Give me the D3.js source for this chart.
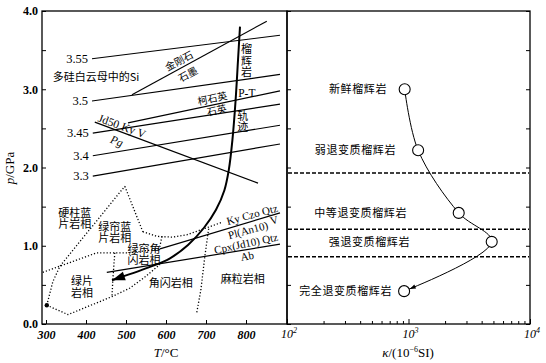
<!DOCTYPE html>
<html>
<head>
<meta charset="utf-8">
<script src="https://cdn.jsdelivr.net/npm/d3@7"></script>
<style>
  body { margin: 0; background: #fff; }
  svg { display: block; }
  .serif { font-family: "Liberation Serif", "DejaVu Serif", serif; }
  .cjk { font-family: "Noto Sans CJK SC", sans-serif; }
</style>
</head>
<body>
<div id="chart"></div>
<script>
// ---- data ----
const tempTicks = [300, 400, 500, 600, 700, 800];
const pressureTicks = [0, 1, 2, 3, 4];
const pressureMinor = [0.5, 1.5, 2.5, 3.5];
const kappaTicks = [100, 1000, 10000];
const kappaExp = ["2", "3", "4"];

// phengite Si isopleths (T at ends, p at ends)
const siLabels = ["3.55", "3.5", "3.45", "3.4", "3.3"];
const siT = [[415, 885], [415, 885], [417, 885], [417, 885], [417, 885]];
const siP = [[3.39, 3.69], [2.85, 3.19], [2.44, 2.81], [2.15, 2.54], [1.89, 2.30]];

// reaction lines
const reactionNames = ["diamond-graphite", "coesite-quartz", "Jd50", "KyCzoQtz", "CpxQtz"];
const reactionT = [[515, 852], [505, 885], [422, 830], [585, 885], [452, 885]];
const reactionP = [[2.93, 3.87], [2.57, 2.98], [2.58, 1.80], [0.96, 1.42], [0.66, 1.02]];

// eclogite P-T path
const pathT = [785, 780, 774, 766, 757, 746, 725, 695, 655, 610, 555, 465];
const pathP = [3.80, 3.37, 2.86, 2.35, 1.97, 1.71, 1.46, 1.23, 1.01, 0.84, 0.72, 0.56];

// facies boundaries (dotted)
const faciesLines = [
  [[302, 0.24], [317, 0.54], [335, 0.74], [497, 1.76]],
  [[497, 1.76], [542, 1.18]],
  [[542, 1.18], [577, 1.12], [617, 1.11], [652, 1.14], [702, 1.23], [740, 1.30]],
  [[292, 0.66], [335, 0.74], [427, 0.91], [510, 0.91], [585, 0.96]],
  [[472, 0.91], [467, 0.56], [465, 0.35]],
  [[302, 0.24], [355, 0.12], [465, 0.35], [510, 0.46], [547, 0.60], [585, 0.76]],
  [[677, 0.15], [687, 0.43], [697, 0.86], [707, 1.23]],
  [[590, 1.12], [582, 0.93]]
];

// magnetic susceptibility of eclogites
const eclogiteNames = ["新鲜榴辉岩", "弱退变质榴辉岩", "中等退变质榴辉岩", "强退变质榴辉岩", "完全退变质榴辉岩"];
const kappaValues = [930, 1200, 2590, 4840, 920];
const kappaP = [3.00, 2.22, 1.42, 1.05, 0.42];
const stageBoundaries = [1.93, 1.21, 0.86];

// ---- drawing ----
const W = 546, H = 363;
const svg = d3.select("#chart").append("svg").attr("width", W).attr("height", H);
svg.append("rect").attr("width", W).attr("height", H).attr("fill", "#fff");

const xT = d3.scaleLinear().domain([290, 900]).range([42, 286]);
const yP = d3.scaleLinear().domain([0, 4]).range([324, 11]);
const xK = d3.scaleLog().domain([100, 10000]).range([287, 530]);

// frames
svg.append("rect").attr("x", 42).attr("y", 11).attr("width", 245).attr("height", 313)
  .attr("fill", "none").attr("stroke", "#000").attr("stroke-width", 1.3);
svg.append("rect").attr("x", 287).attr("y", 11).attr("width", 243).attr("height", 313)
  .attr("fill", "none").attr("stroke", "#000").attr("stroke-width", 1.3);

function clean(g) { g.select(".domain").remove(); }

// left panel axes
svg.append("g").attr("transform", "translate(0,324)")
  .call(d3.axisBottom(xT).tickValues(tempTicks).tickSizeInner(-4).tickSizeOuter(0).tickPadding(6))
  .call(clean)
  .call(g => g.selectAll("text").attr("class", "serif").attr("font-size", 12)
    .attr("font-weight", "bold").attr("font-style", "italic"));

svg.append("g").attr("transform", "translate(42,0)")
  .call(d3.axisLeft(yP).tickValues(pressureTicks).tickFormat(d3.format(".1f"))
    .tickSizeInner(-4).tickSizeOuter(0).tickPadding(4))
  .call(clean)
  .call(g => g.selectAll("text").attr("class", "serif").attr("font-size", 12).attr("font-weight", "bold"));
svg.append("g").attr("transform", "translate(42,0)")
  .call(d3.axisLeft(yP).tickValues(pressureMinor).tickFormat("").tickSizeInner(-4).tickSizeOuter(0))
  .call(clean);

// shared divider ticks and right panel ticks
svg.append("g").attr("transform", "translate(287,0)")
  .call(d3.axisRight(yP).tickValues(pressureTicks.concat(pressureMinor)).tickFormat("").tickSize(4))
  .call(clean);
svg.append("g").attr("transform", "translate(530,0)")
  .call(d3.axisLeft(yP).tickValues(pressureTicks.concat(pressureMinor)).tickFormat("").tickSize(4))
  .call(clean);

// right panel x axis (log)
const kMinor = [];
[100, 1000].forEach(b => { for (let i = 2; i <= 9; i++) kMinor.push(b * i); });
svg.append("g").attr("transform", "translate(0,324)")
  .call(d3.axisBottom(xK).tickValues(kMinor).tickFormat("").tickSizeInner(-3).tickSizeOuter(0))
  .call(clean);
svg.append("g").attr("transform", "translate(0,324)")
  .call(d3.axisBottom(xK).tickValues(kappaTicks).tickFormat("").tickSizeInner(-5).tickSizeOuter(0))
  .call(clean);
kappaTicks.forEach((k, i) => {
  const t = svg.append("text").attr("class", "serif").attr("x", xK(k) + 2).attr("y", 338)
    .attr("text-anchor", "middle").attr("font-size", 12).attr("font-style", "italic").text("10");
  t.append("tspan").attr("font-size", 8).attr("dy", -5).text(kappaExp[i]);
});

// axis titles
const tt = svg.append("text").attr("class", "serif").attr("x", 166).attr("y", 357)
  .attr("text-anchor", "middle").attr("font-size", 13);
tt.append("tspan").attr("font-style", "italic").text("T");
tt.append("tspan").text("/°C");

const pt = svg.append("text").attr("class", "serif").attr("transform", "translate(14,168) rotate(-90)")
  .attr("text-anchor", "middle").attr("font-size", 13);
pt.append("tspan").attr("font-style", "italic").text("p");
pt.append("tspan").text("/GPa");

const kt = svg.append("text").attr("class", "serif").attr("x", 408).attr("y", 357)
  .attr("text-anchor", "middle").attr("font-size", 13);
kt.append("tspan").attr("font-style", "italic").text("κ");
kt.append("tspan").text("/(10");
kt.append("tspan").attr("font-size", 8).attr("dy", -5).text("−6");
kt.append("tspan").attr("dy", 5).text("SI)");

// ---- left panel content ----
const left = svg.append("g");
const seg = (Ts, Ps) => d3.line()(Ts.map((t, i) => [xT(t), yP(Ps[i])]));

// facies boundaries
const faciesLine = d3.line().x(d => xT(d[0])).y(d => yP(d[1])).curve(d3.curveLinear);
faciesLines.forEach(f => {
  left.append("path").attr("d", faciesLine(f)).attr("fill", "none")
    .attr("stroke", "#000").attr("stroke-width", 1.3).attr("stroke-dasharray", "1.2,2");
});
left.append("circle").attr("cx", xT(302)).attr("cy", yP(0.24)).attr("r", 2.2).attr("fill", "#000");

// Si isopleths
siLabels.forEach((s, i) => {
  left.append("path").attr("d", seg(siT[i], siP[i])).attr("stroke", "#000").attr("stroke-width", 1.2);
  left.append("text").attr("class", "serif").attr("x", xT(siT[i][0]) - 4).attr("y", yP(siP[i][0]) + 4)
    .attr("text-anchor", "end").attr("font-size", 12.5).text(s);
});

// reactions
reactionNames.forEach((r, i) => {
  left.append("path").attr("d", seg(reactionT[i], reactionP[i])).attr("stroke", "#000").attr("stroke-width", 1.2);
});

// P-T path
const ptLine = d3.line().x((d, i) => xT(pathT[i])).y((d, i) => yP(pathP[i])).curve(d3.curveCatmullRom.alpha(0.5));
const ptPath = left.append("path").attr("d", ptLine(pathT)).attr("fill", "none")
  .attr("stroke", "#000").attr("stroke-width", 2);
{
  const node = ptPath.node(), L = node.getTotalLength();
  const a = node.getPointAtLength(L), b = node.getPointAtLength(L - 6);
  const ang = Math.atan2(a.y - b.y, a.x - b.x);
  const tip = [a.x, a.y];
  const len = 13, half = 4.5;
  const bx = tip[0] - len * Math.cos(ang), by = tip[1] - len * Math.sin(ang);
  const p1 = [bx + half * Math.sin(ang), by - half * Math.cos(ang)];
  const p2 = [bx - half * Math.sin(ang), by + half * Math.cos(ang)];
  left.append("path").attr("d", `M${tip}L${p1}L${p2}Z`).attr("fill", "#000");
}

// annotations
function note(txt, T, p, opts = {}) {
  left.append("text").attr("class", opts.serif ? "serif" : "cjk")
    .attr("transform", `translate(${xT(T)},${yP(p)}) rotate(${opts.rot || 0})`)
    .attr("text-anchor", opts.anchor || "middle").attr("dy", "0.35em")
    .attr("font-size", opts.size || 11).attr("font-style", opts.italic ? "italic" : null)
    .attr("letter-spacing", opts.ls || null)
    .text(txt);
}
note("多硅白云母中的Si", 317, 3.16, { anchor: "start", size: 11 });
note("金刚石", 633, 3.36, { rot: -28, size: 10 });
note("石墨", 655, 3.19, { rot: -28, size: 10 });
note("柯石英", 716, 2.88, { rot: -12, size: 10 });
note("石英", 727, 2.73, { rot: -12, size: 10 });
note("Jd50 Ky V", 490, 2.53, { rot: 20, serif: true, italic: false, size: 11.5 });
note("Pg", 477, 2.34, { rot: 20, serif: true, italic: true, size: 11.5 });
note("榴", 801, 3.51); note("辉", 801, 3.36); note("岩", 801, 3.22);
note("P-T", 802, 2.95, { serif: true, size: 11.5 });
note("轨", 792, 2.66); note("迹", 792, 2.52);
note("Ky Czo Qtz", 815, 1.40, { rot: -15, serif: true, size: 11 });
note("Pl(An10)", 805, 1.20, { rot: -15, serif: true, size: 11 });
note("V", 870, 1.33, { rot: -15, serif: true, size: 11 });
note("Cpx(Jd10) Qtz", 800, 1.03, { rot: -12, serif: true, size: 11 });
note("Ab", 803, 0.87, { rot: -10, serif: true, size: 11 });
note("硬柱蓝", 372, 1.42); note("片岩相", 372, 1.27);
note("绿帘蓝", 472, 1.24); note("片岩相", 472, 1.10);
note("绿帘角", 545, 0.96); note("闪岩相", 545, 0.82);
note("绿片", 390, 0.55); note("岩相", 390, 0.40);
note("角闪岩相", 612, 0.52);
note("麻粒岩相", 792, 0.575);

// ---- right panel content ----
const right = svg.append("g");
stageBoundaries.forEach(p => {
  right.append("line").attr("x1", 288).attr("x2", 529).attr("y1", yP(p)).attr("y2", yP(p))
    .attr("stroke", "#000").attr("stroke-width", 1.6).attr("stroke-dasharray", "4,2");
});

const kLine = d3.line().x((d, i) => xK(kappaValues[i])).y((d, i) => yP(kappaP[i]))
  .curve(d3.curveCatmullRom.alpha(0.5));
const kPath = right.append("path").attr("d", kLine(kappaValues)).attr("fill", "none")
  .attr("stroke", "#000").attr("stroke-width", 1);
const r = 5.5;
{
  const node = kPath.node(), L = node.getTotalLength();
  const a = node.getPointAtLength(L - r - 0.5), b = node.getPointAtLength(L - r - 6);
  const ang = Math.atan2(a.y - b.y, a.x - b.x);
  const len = 6, half = 2.2;
  const bx = a.x - len * Math.cos(ang), by = a.y - len * Math.sin(ang);
  const p1 = [bx + half * Math.sin(ang), by - half * Math.cos(ang)];
  const p2 = [bx - half * Math.sin(ang), by + half * Math.cos(ang)];
  right.append("path").attr("d", `M${[a.x, a.y]}L${p1}L${p2}Z`).attr("fill", "#000");
}
right.selectAll("circle.pt").data(kappaValues).join("circle").attr("class", "pt")
  .attr("cx", d => xK(d)).attr("cy", (d, i) => yP(kappaP[i])).attr("r", r)
  .attr("fill", "#fff").attr("stroke", "#000").attr("stroke-width", 1.1);

// stage labels, right-aligned next to their points
const labelEnd = [387, 396, 407, 410, 392];
eclogiteNames.forEach((n, i) => {
  right.append("text").attr("class", "cjk").attr("x", labelEnd[i]).attr("y", yP(kappaP[i]) + 4)
    .attr("text-anchor", "end").attr("font-size", 11).attr("letter-spacing", 0.6).text(n);
});
</script>
</body>
</html>
